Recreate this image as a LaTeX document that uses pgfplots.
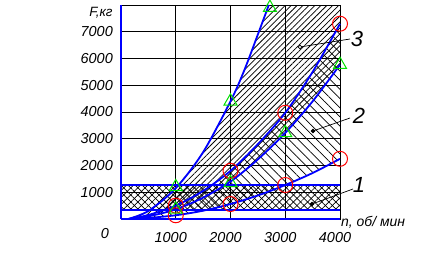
\documentclass[border=0pt]{standalone}
\usepackage{pgfplots}
\pgfplotsset{compat=1.18}
\usepackage{fontspec}
\setmainfont{Liberation Sans}
\usetikzlibrary{patterns.meta,shapes.geometric}
\definecolor{bl}{RGB}{0,0,255}
\definecolor{rd}{RGB}{255,0,0}
\definecolor{gr}{RGB}{0,225,0}
\begin{document}
\begin{tikzpicture}[x=1bp,y=1bp]
\useasboundingbox (0,0) rectangle (442,255);
\fill[white] (0,0) rectangle (442,255);
\begin{axis}[
 at={(121bp,36bp)}, anchor=south west, scale only axis, width=219bp, height=214bp,
 xmin=0,xmax=4000,ymin=0,ymax=8000, clip=false,
 axis line style={black, line width=0.8bp},
 xtick={1000,2000,3000,4000}, xticklabels={1000,2000,3000,4000},
 ytick={1000,2000,...,7000}, yticklabels={1000,2000,3000,4000,5000,6000,7000},
 major tick length=0pt,
 grid=major, grid style={black, line width=0.8bp},
 ticklabel style={font=\fontsize{14.5}{14.5}\selectfont\itshape, inner sep=0pt},
 xticklabel style={anchor=center, yshift=-18.5bp, xshift=-5bp},
 yticklabel style={anchor=east, xshift=-8bp},
 /pgf/number format/assume math mode=true,
]
% region 3 (between curves A and D)
\addplot[draw=none, pattern={Lines[angle=45,distance=4.2bp,line width=0.75bp]}] coordinates {
 (130,0)(500,300)(1000,1150)(1500,2500)(2000,4400)(2250,5550)(2500,6900)(2700,8000)
 (4000,8000)
 (4000,5770)(3500,4400)(3000,3220)(2500,2230)(2000,1400)(1500,800)(1000,360)(500,100)(130,0)};
% region 2 (between curves C and E)
\addplot[draw=none, pattern={Lines[angle=-45,distance=6.5bp,line width=0.7bp]}] coordinates {
 (130,0)(500,150)(1000,500)(1500,1050)(2000,1800)(2500,2800)(3000,3970)(3500,5500)(4000,7300)
 (4000,2250)(3500,1720)(3000,1270)(2500,880)(2000,560)(1500,310)(1000,140)(500,40)(130,0)};
% region 1 band
\addplot[draw=none, pattern={Lines[angle=45,distance=5bp,line width=0.7bp]}] coordinates {(0,340)(4000,340)(4000,1270)(0,1270)};
\addplot[draw=none, pattern={Lines[angle=-45,distance=5bp,line width=0.7bp]}] coordinates {(0,340)(4000,340)(4000,1270)(0,1270)};
\addplot[bl, line width=2bp] coordinates {(0,340)(4000,340)};
\addplot[bl, line width=2bp] coordinates {(0,1270)(4000,1270)};
% axes in blue
\addplot[bl, line width=2.6bp] coordinates {(0,0)(4000,0)};
\addplot[bl, line width=2bp] coordinates {(0,0)(0,8000)};
% curves
\addplot[bl, line width=1.8bp, smooth] coordinates {(130,0)(500,300)(1000,1150)(1500,2500)(2000,4400)(2250,5550)(2500,6900)(2700,8000)};
\addplot[bl, line width=1.8bp, smooth] coordinates {(130,0)(500,150)(1000,500)(1500,1050)(2000,1800)(2500,2800)(3000,3970)(3500,5500)(4000,7300)};
\addplot[bl, line width=1.8bp, smooth] coordinates {(130,0)(500,100)(1000,360)(1500,800)(2000,1400)(2500,2230)(3000,3220)(3500,4400)(4000,5770)};
\addplot[bl, line width=1.8bp, smooth] coordinates {(130,0)(500,40)(1000,140)(1500,310)(2000,560)(2500,880)(3000,1270)(3500,1720)(4000,2250)};
% markers
\addplot[only marks, mark=o, mark size=7.5bp, rd, line width=1bp] coordinates {
 (1000,500)(2000,1800)(3000,3970)(4000,7300)(1000,140)(2000,560)(3000,1270)(4000,2250)};
\addplot[only marks, mark=triangle, mark size=7.5bp, gr, line width=1bp] coordinates {
 (1000,1200)(2000,4400)(2720,7900)(1000,360)(2000,1350)(3000,3220)(4000,5770)};
\end{axis}
% annotations
\begin{scope}[font=\itshape]
\node[font=\fontsize{13.5}{13.5}\selectfont\itshape] at (101,242) {F,кг};
\node[font=\fontsize{14.5}{14.5}\selectfont\itshape] at (105,21) {0};
\node[anchor=west, inner sep=0pt, font=\fontsize{14}{14}\selectfont\itshape] at (341,33) {n, об/ мин};
\node[font=\fontsize{22}{22}\selectfont\itshape] at (357,216) {3};
\node[font=\fontsize{22}{22}\selectfont\itshape] at (359,139) {2};
\node[font=\fontsize{22}{22}\selectfont\itshape] at (359,70) {1};
\draw[line width=0.7bp] (350,216) -- (300,208);
\draw[line width=0.7bp] (350,137) -- (313,124);
\draw[line width=0.7bp] (353,66) -- (312,51);
\node[diamond, draw, fill=white, line width=0.6bp, inner sep=0pt, minimum size=4bp] at (300,208) {};
\node[diamond, draw, fill=black, line width=0.6bp, inner sep=0pt, minimum size=4bp] at (313,124) {};
\node[diamond, draw, fill=black, line width=0.6bp, inner sep=0pt, minimum size=4bp] at (312,51) {};
\end{scope}
\end{tikzpicture}
\end{document}
